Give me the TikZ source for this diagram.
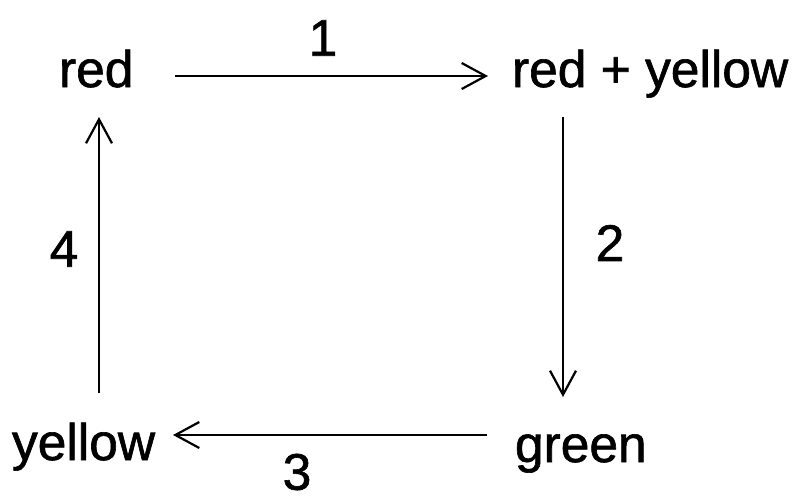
\documentclass[tikz,border=0pt]{standalone}
\usepackage{fontspec}
\setmainfont{Liberation Sans}
\newfontfamily\heavy{Liberation Sans}[FakeBold=1.2]
\usetikzlibrary{arrows.meta}
\begin{document}
\begin{tikzpicture}[x=1pt,y=-1pt,
  lbl/.style={inner sep=0pt,outer sep=0pt,font=\heavy\fontsize{51.5}{60}\selectfont},
  word/.style={lbl,anchor=base west},
  arr/.style={line width=2.2pt,-{Straight Barb[length=24pt,width=26pt,line width=2.2pt]}}]
\useasboundingbox (0,0) rectangle (798,496);
\fill[white] (0,0) rectangle (798,496);
\node[word] (red) at (59,87) {red};
\node[word] (ry) at (512,87) {red + yellow};
\node[word] (yel) at (12,460) {yellow};
\node[word] (grn) at (515,462) {green};
\node[lbl] (l1) at (323,38) {1};
\node[lbl] (l2) at (610,243) {2};
\node[lbl] (l3) at (297,472) {3};
\node[lbl] (l4) at (64,249) {4};
\draw[arr] ([xshift=116pt,yshift=11pt]red.base west) -- ([xshift=-24pt,yshift=11pt]ry.base west);
\draw[arr] ([xshift=51pt,yshift=-30pt]ry.base west) -- ([xshift=48pt,yshift=65pt]grn.base west);
\draw[arr] ([xshift=-28pt,yshift=27pt]grn.base west) -- ([xshift=161pt,yshift=25pt]yel.base west);
\draw[arr] ([xshift=87pt,yshift=67pt]yel.base west) -- ([xshift=40pt,yshift=-30pt]red.base west);
\end{tikzpicture}
\end{document}
